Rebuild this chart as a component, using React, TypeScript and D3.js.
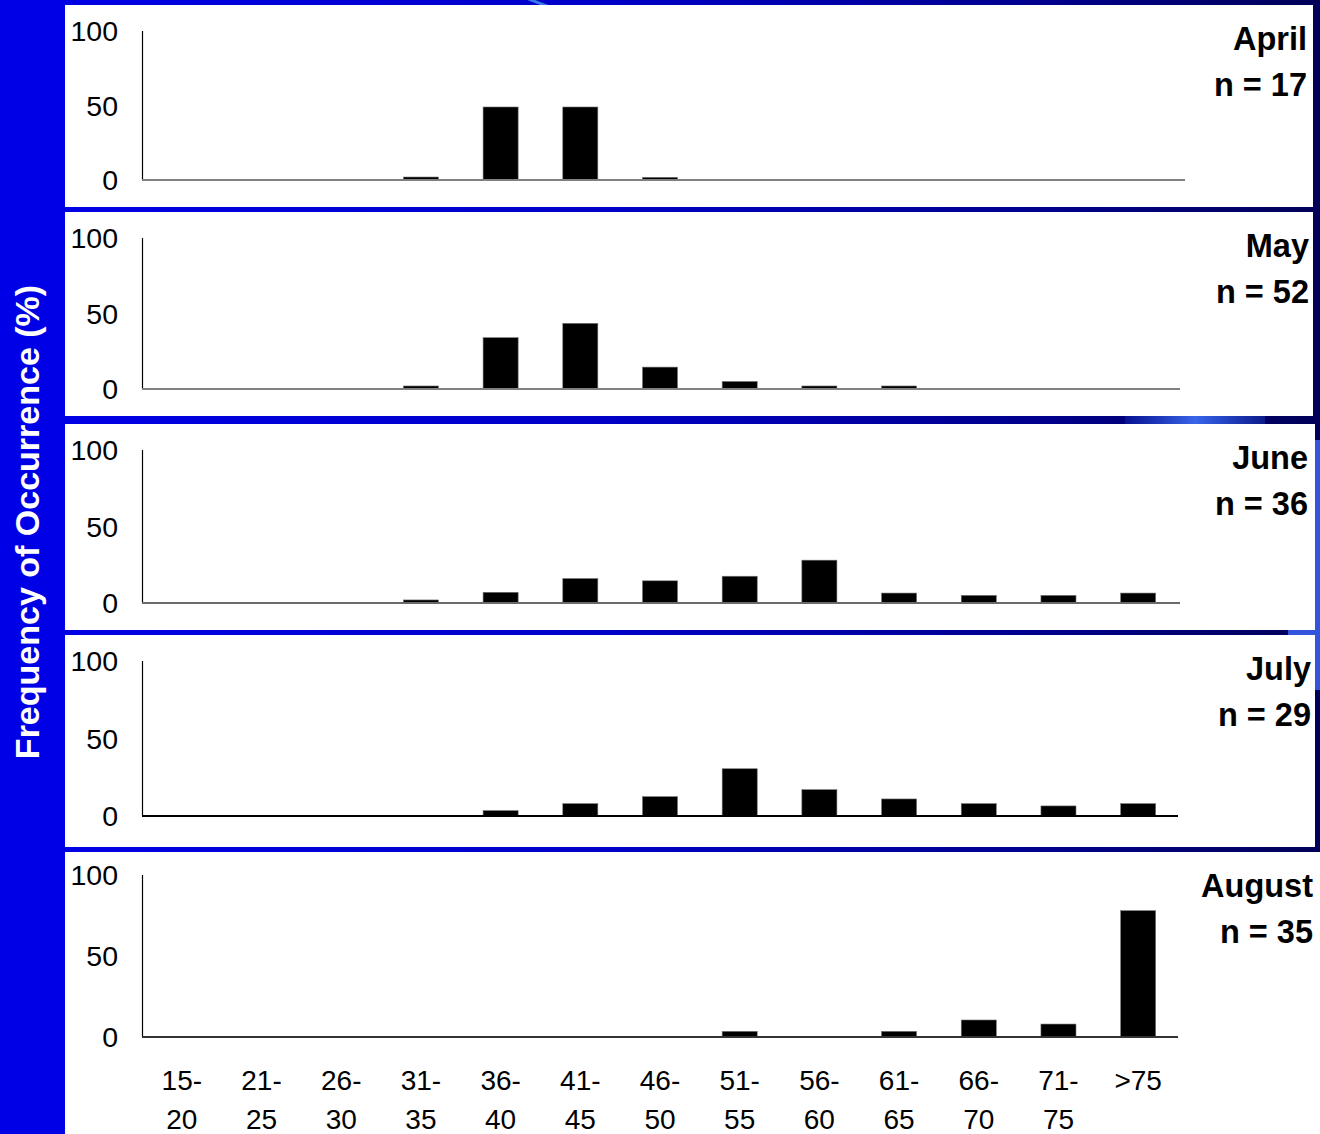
import React from "react";
import * as d3 from "d3";

const categories = ["15-20","21-25","26-30","31-35","36-40","41-45","46-50","51-55","56-60","61-65","66-70","71-75",">75"];
const labelTop = ["15-","21-","26-","31-","36-","41-","46-","51-","56-","61-","66-","71-",">75"];
const labelBottom = ["20","25","30","35","40","45","50","55","60","65","70","75",""];

const months = ["April","May","June","July","August"];
const sampleSizes = ["n = 17","n = 52","n = 36","n = 29","n = 35"];

const april = [0,0,0,2,49,49,1.8,0,0,0,0,0,0];
const may = [0,0,0,2,34,43.5,14.5,5,2,2,0,0,0];
const june = [0,0,0,2,7,16,14.5,17.5,28,6.5,5,5,6.5];
const july = [0,0,0,0,3.5,8,12.5,30.5,17,11,8,6.5,8];
const august = [0,0,0,0,0,0,0,3.5,0,3.5,10.5,8,78];
const seriesList = [april, may, june, july, august];

const yTicks = [0, 50, 100];

// layout (positions only)
const panels = [
  { top: 5, bottom: 207, right: 1313, y0: 180, y100: 31, axisEnd: 1185, base: "#808080", labelX: 1307 },
  { top: 212, bottom: 416, right: 1313, y0: 389, y100: 238, axisEnd: 1180, base: "#808080", labelX: 1309 },
  { top: 424, bottom: 630, right: 1315, y0: 603, y100: 450, axisEnd: 1180, base: "#6a6a6a", labelX: 1308 },
  { top: 635, bottom: 847, right: 1315, y0: 816, y100: 661, axisEnd: 1178, base: "#000000", labelX: 1311 },
  { top: 852, bottom: 1134, right: 1320, y0: 1037, y100: 875, axisEnd: 1178, base: "#333333", labelX: 1313 },
];

const FONT = "'Liberation Sans', Arial, Helvetica, sans-serif";
const W = 1320, H = 1134;

export default function App() {
  const x = d3.scaleBand<string>().domain(categories).range([142, 1178]).paddingInner(0.56).paddingOuter(0.28);

  return (
    <>
      <style>{`body{margin:0;} svg{display:block;}`}</style>
      <svg width={W} height={H} xmlns="http://www.w3.org/2000/svg" style={{ fontFamily: FONT }}>
        <defs>
          <linearGradient id="bg" x1="0" y1="0" x2="1" y2="0">
            <stop offset="0" stopColor="#0000e8" />
            <stop offset="0.45" stopColor="#0000c8" />
            <stop offset="0.8" stopColor="#00008a" />
            <stop offset="1" stopColor="#000058" />
          </linearGradient>
          <linearGradient id="streak" x1="0" y1="0" x2="1" y2="0">
            <stop offset="0" stopColor="#2a5ae8" stopOpacity="0.2" />
            <stop offset="0.5" stopColor="#3a66ea" stopOpacity="1" />
            <stop offset="1" stopColor="#2a5ae8" stopOpacity="0.3" />
          </linearGradient>
        </defs>
        <rect x={0} y={0} width={W} height={H} fill="url(#bg)" />
        <rect x={0} y={0} width={65} height={H} fill="#0000e6" />
        {/* decorative streaks of the slide background */}
        <path d="M522,-2 L548,8 L556,8 L530,-2 Z" fill="#3a7ae8" />
        <rect x={1125} y={414} width={140} height={12} fill="url(#streak)" />
        <rect x={1313} y={440} width={7} height={250} fill="#3355dd" />
        <rect x={1288} y={628} width={32} height={10} fill="#3355dd" />

        {panels.map((p, i) => {
          const y = d3.scaleLinear().domain([0, 100]).range([p.y0, p.y100]);
          const data = seriesList[i];
          return (
            <g key={months[i]}>
              <rect x={65} y={p.top} width={p.right - 65} height={p.bottom - p.top} fill="#ffffff" />
              {/* y-axis */}
              <line x1={142.5} x2={142.5} y1={y(100)} y2={y(0)} stroke="#000" strokeWidth={1.2} />
              {yTicks.map((t) => (
                <text key={t} x={118} y={y(t)} dy="0.36em" textAnchor="end" fontSize={28.5} fill="#000">
                  {t}
                </text>
              ))}
              {/* bars */}
              {categories.map((c, j) =>
                data[j] > 0 ? (
                  <rect
                    key={c}
                    x={x(c)!}
                    y={y(data[j])}
                    width={x.bandwidth()}
                    height={y(0) - y(data[j])}
                    fill="#000"
                    stroke="#777"
                    strokeWidth={0.6}
                  />
                ) : null
              )}
              {/* baseline */}
              <line x1={142} x2={p.axisEnd} y1={y(0)} y2={y(0)} stroke={p.base} strokeWidth={2} />
              {/* month labels */}
              <text x={p.labelX} y={p.top + 45} textAnchor="end" fontSize={32.5} fontWeight="bold" fill="#000">
                {months[i]}
              </text>
              <text x={p.labelX} y={p.top + 91} textAnchor="end" fontSize={32.5} fontWeight="bold" fill="#000">
                {sampleSizes[i]}
              </text>
            </g>
          );
        })}

        {/* x-axis category labels */}
        {categories.map((c, j) => {
          const cx = x(c)! + x.bandwidth() / 2;
          return (
            <g key={c}>
              <text x={cx} y={1090} textAnchor="middle" fontSize={28} fill="#000">{labelTop[j]}</text>
              <text x={cx} y={1129} textAnchor="middle" fontSize={28} fill="#000">{labelBottom[j]}</text>
            </g>
          );
        })}

        {/* y-axis title */}
        <text
          transform="translate(39,522) rotate(-90)"
          textAnchor="middle"
          fontSize={34}
          fontWeight="bold"
          fill="#ffffff"
        >
          Frequency of Occurrence (%)
        </text>
      </svg>
    </>
  );
}
